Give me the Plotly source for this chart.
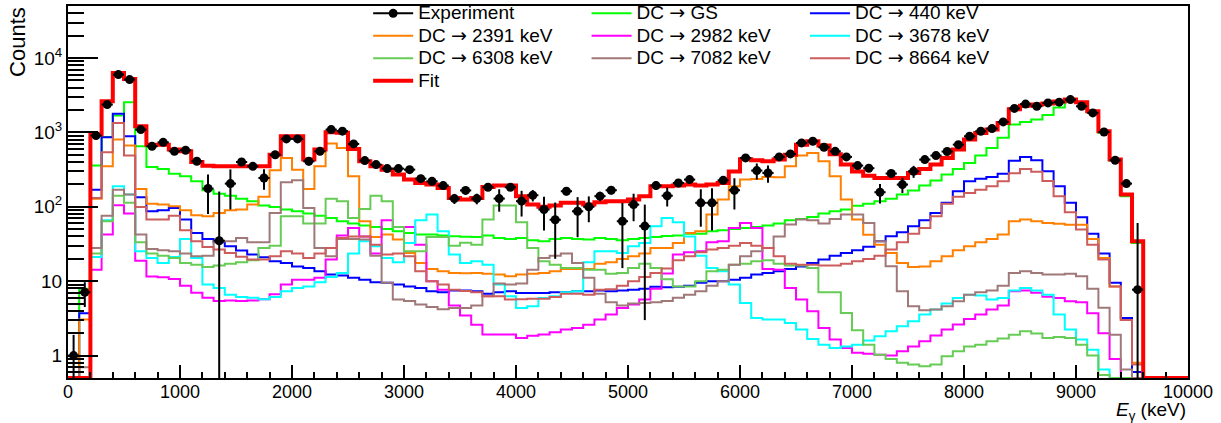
import numpy as np
import plotly.graph_objects as go

# ---------------- data (100 keV bins, 0 - 10000 keV) ----------------
bin_edges_keV = list(range(0, 10001, 100))

experiment = [1, 7.1, 906, 2366, 5980, 5130, 1090, 650, 736, 557,
              575, 409, 176, 35, 205, 400, 350, 244, 500, 817,
              817, 409, 557, 1090, 1040, 700, 418, 369, 326, 326,
              316, 239, 220, 193, 129, 166, 129, 183, 129, 183,
              119, 143, 92, 67, 162, 87, 100, 139, 167, 64,
              107, 55, 193, 141, 209, 232, 113, 113, 227, 167,
              454, 307, 285, 468, 514, 722, 760, 631, 557, 468,
              358, 330, 157, 280, 199, 300, 431, 488, 553, 685,
              887, 1035, 1125, 1383, 2100, 2400, 2245, 2490, 2550, 2760,
              2245, 1828, 1014, 422, 205, 7.7, None, None, None, None]

experiment_err = [0.9, 2.6, 30, 50, 80, 75, 35, 28, 30, 30,
                  30, 35, 96, 126, 113, 35, 35, 75, 40, 40,
                  40, 50, 40, 45, 45, 40, 30, 25, 25, 25,
                  25, 25, 25, 25, 20, 20, 21, 20, 43, 20,
                  45, 25, 44, 47, 20, 48, 38, 20, 20, 49,
                  43, 52, 25, 40, 25, 25, 59, 65, 25, 75,
                  30, 75, 75, 30, 30, 30, 30, 30, 30, 30,
                  30, 30, 46, 30, 46, 55, 35, 35, 35, 35,
                  40, 40, 40, 45, 50, 50, 50, 50, 50, 50,
                  50, 45, 40, 30, 25, 53, None, None, None, None]

fit = [0, 0, 935, 2620, 6310, 5230, 1210, 685, 685, 590,
       560, 400, 355, 350, 350, 350, 350, 351, 500, 887,
       887, 431, 587, 1004, 990, 600, 409, 351, 316, 271,
       232, 209, 199, 179, 131, 125, 131, 185, 193, 193,
       139, 107, 100, 104, 113, 113, 107, 115, 119, 119,
       125, 139, 189, 189, 193, 199, 193, 199, 209, 298,
       436, 421, 409, 431, 499, 685, 760, 665, 508, 369,
       298, 262, 244, 244, 244, 285, 323, 369, 453, 587,
       800, 984, 1091, 1340, 2050, 2290, 2365, 2440, 2600, 2760,
       2540, 1925, 1035, 431, 146, 34.4, 0, 0, 0, 0]

dc_gs = [0, 7.9, 358, 869, 1683, 2540, 651, 343, 323, 279,
         257, 220, 167, 150, 141, 128, 119, 104, 99.7, 91.7,
         87.3, 81, 76, 70.8, 64, 59.5, 55.9, 53.6, 50.4, 46.9,
         44.5, 42.3, 42.3, 41, 40.1, 39.6, 39.3, 41, 38.2, 37,
         38, 35.5, 34.4, 37, 38, 37, 36.3, 38, 37, 35.5,
         37, 38, 39.3, 40.5, 41, 43.6, 43.6, 47, 48.5, 50.4,
         52, 53.6, 56, 59.5, 66, 68.7, 73, 81, 87, 91.7,
         103, 110, 119, 128, 146, 165, 193, 225, 271, 323,
         389, 488, 618, 850, 1273, 1375, 1490, 1720, 2165, 2600,
         2488, 1866, 984, 418, 139, 32.7, 0, 0, 0, 0]

dc_440 = [0, 3.7, 170, 860, 1775, 887, 134, 87, 90, 96.6,
          67.3, 44.5, 37, 33.4, 29.5, 25.8, 22.8, 21, 18.5, 17.6,
          15.8, 15, 13.6, 12.3, 11.9, 11.1, 10.5, 9.7, 9.5, 9.0,
          8.5, 8.1, 7.3, 7.1, 7.5, 7.5, 7.3, 6.8, 7.1, 7.3,
          6.95, 6.95, 6.95, 7.1, 7.1, 7.3, 7.3, 7.5, 7.3, 7.5,
          7.7, 7.9, 8.4, 8.3, 8.4, 8.7, 9.5, 10, 10, 10.5,
          11.1, 12.3, 12.9, 13.6, 14.6, 15.8, 17.6, 19.5, 22, 24,
          26, 29, 34.4, 40.2, 45.5, 54.7, 65.9, 82.8, 113, 162,
          220, 239, 252, 279, 415, 468, 422, 300, 189, 113,
          72.3, 43.6, 23.5, 9.5, 3.2, 0.6, 0, 0, 0, 0]

dc_2391 = [0, 3.05, 128, 351, 800, 665, 174, 110, 107, 102,
           90, 77, 74.5, 82.8, 90, 92, 107, 137, 310, 454,
           316, 174, 351, 707, 618, 257, 64, 39.3, 42.3, 36.3,
           24, 17.6, 14.6, 13.6, 12.9, 12.8, 12.9, 12.6, 12.3, 11.7,
           12.3, 12.6, 12.9, 13.6, 14.6, 14.6, 14.6, 17.2, 18, 19.9,
           21.6, 23.5, 28, 28, 32.7, 44.5, 46.9, 78.6, 125, 189,
           232, 237, 252, 250, 351, 488, 530, 409, 257, 125,
           67.3, 42, 31, 24, 17.6, 15.5, 15.8, 18.5, 21.6, 26,
           29.5, 33.4, 37, 42.3, 64, 67.3, 64, 60.7, 59.4, 57.5,
           57.5, 37, 20.5, 8.5, 3, 0.8, 0, 0, 0, 0]

dc_2982 = [0, 0, 14.3, 42.3, 105, 81, 18.9, 11.6, 11.3, 10.7,
           8.7, 7, 6, 5.4, 5.5, 5.4, 5.5, 5.7, 6.7, 9,
           10.5, 10.5, 11.1, 19.5, 41, 52, 40, 23.5, 66, 53.6,
           53.6, 31, 10, 7.7, 4.7, 3.45, 2.6, 1.92, 1.92, 1.92,
           1.73, 1.85, 1.92, 2.06, 2.24, 2.35, 2.6, 3.05, 3.56, 4.37,
           4.85, 5.67, 7.9, 12.7, 22.8, 24.5, 25.3, 33.4, 34.4, 52,
           60.7, 52, 14.6, 14.3, 8.1, 5.67, 3.95, 2.35, 1.64, 1.27,
           1.09, 1.06, 1.03, 1.0, 1.14, 1.33, 1.56, 1.86, 2.24, 2.61,
           3.1, 3.56, 4.15, 4.7, 7.3, 7.5, 7.0, 6.2, 5.96, 5.37,
           5.2, 3.7, 2.0, 0.9, 0.5, 0, 0, 0, 0, 0]

dc_3678 = [0, 0, 21.2, 66, 189, 146, 25.3, 20.5, 17.6, 21.2,
           37, 20.5, 9, 8.1, 6.6, 6.15, 6.0, 5.7, 6.15, 7.3,
           8.1, 8.5, 9.7, 11.4, 12.9, 23.5, 34.4, 29.5, 20.5, 18,
           32.7, 66, 78.6, 47, 22.8, 17.6, 18.5, 16.7, 9, 6.3,
           4.37, 4.6, 5.96, 6.3, 7.1, 7.3, 18, 25.3, 25.3, 24,
           29.5, 32.7, 54.7, 70.8, 62, 40, 22, 15, 13.6, 9,
           5.1, 3.2, 3.05, 3.05, 2.75, 2.24, 1.67, 1.4, 1.27, 1.33,
           1.4, 1.6, 1.82, 2.12, 2.48, 2.9, 3.56, 4.15, 5, 5.96,
           6.6, 6.4, 5.67, 5.96, 7.5, 8.1, 7.5, 6.6, 3.56, 2.24,
           1.64, 1.2, 0.65, 0, 0, 0, 0, 0, 0, 0]

dc_6308 = [0, 0, 23.5, 64, 141, 113, 33.4, 23.5, 22, 20.5,
           17.6, 16.7, 15.5, 16.2, 17.2, 18, 19.1, 28, 30, 74.6,
           74.6, 59.5, 59.5, 128, 119, 70.8, 93.6, 141, 119, 53.6,
           25.3, 25.3, 39.3, 39.3, 30, 33, 31, 67.3, 104, 104,
           62, 28, 18.5, 16.7, 15, 15, 14.3, 14.3, 12.6, 12.9,
           15, 17.2, 15, 10.6, 8.5, 8.5, 10, 13.6, 14.3, 16.7,
           17.2, 18.5, 19.1, 17.2, 16.2, 16.2, 15, 7.1, 7.1, 3.75,
           2.19, 1.4, 1.03, 0.9, 0.8, 0.76, 0.72, 0.76, 0.98, 1.14,
           1.33, 1.4, 1.56, 1.7, 1.91, 2.12, 1.98, 1.73, 1.78, 1.73,
           1.4, 1.0, 0.55, 0, 0, 0, 0, 0, 0, 0]

dc_7082 = [0, 0.7, 28, 76, 170, 146, 42.3, 27, 26, 25.3,
           23.5, 21.6, 22, 34.4, 34.4, 38.2, 33.4, 33.4, 82.8, 213,
           227, 96.6, 28, 21.6, 37, 37, 36.3, 22, 9.5, 5.67,
           5.4, 4.85, 4.5, 4.2, 4.37, 4.37, 4.7, 6.3, 9.3, 9.0,
           9.3, 14.3, 20.5, 22, 23.5, 17.6, 11.1, 6.8, 5.2, 4.7,
           5.0, 5.1, 5.2, 5.4, 6, 6.6, 7.3, 8.7, 10, 16.7,
           21.6, 25.3, 28, 40, 57.7, 67.3, 66, 59.5, 68.7, 78.6,
           78.6, 60.7, 34.4, 15.9, 7.3, 4.6, 4.07, 4.15, 4.6, 5.37,
           6.6, 7.1, 7.5, 8.7, 12.9, 13.6, 12.9, 12.3, 12.3, 12.6,
           11.7, 7.9, 4.4, 1.91, 0.65, 0, 0, 0, 0, 0]

dc_8664 = [0, 0, 131, 540, 1340, 488, 99.6, 67.3, 67.3, 76,
           48.4, 34.4, 28.9, 26.6, 24, 21.3, 19.5, 19.5, 21.6, 25.3,
           23.5, 20.5, 23.5, 28, 38.2, 40, 40, 31, 22.8, 23.5,
           21.6, 13.6, 10, 9, 7.7, 7.4, 7.1, 6.3, 6.3, 5.67,
           5.7, 5.8, 5.8, 6.15, 6.8, 6.8, 6.6, 7.7, 7.8, 8.7,
           10, 11.4, 12.9, 14.8, 19.1, 21.6, 24.5, 26.6, 28, 30,
           32.7, 30, 28, 21.6, 17.2, 16.7, 16.7, 16.2, 16.2, 17.2,
           18.5, 19.9, 22, 26.6, 33.4, 43.6, 52, 74.6, 110, 136,
           153, 170, 189, 220, 282, 323, 295, 222, 139, 84.5,
           49.4, 31, 19.5, 8.5, 3, 0.76, 0, 0, 0, 0]

series_labels = ["GS", "440 keV", "2391 keV", "2982 keV", "3678 keV",
                 "6308 keV", "7082 keV", "8664 keV"]
series_values = [dc_gs, dc_440, dc_2391, dc_2982, dc_3678, dc_6308, dc_7082, dc_8664]

x_tick_vals = list(range(0, 10001, 1000))
x_tick_text = [str(v) for v in x_tick_vals]
y_tick_vals = [1, 10, 100, 1000, 10000]
y_tick_text = ["1", "10", "10<sup>2</sup>", "10<sup>3</sup>", "10<sup>4</sup>"]

# ---------------- style ----------------
series_colors = ["#00ff00", "#0000ff", "#ff8000", "#ff00ff", "#00ffff",
                 "#66cc55", "#a07878", "#cd5c5c"]
series_legend = ["legend2", "legend3", "legend", "legend2", "legend3",
                 "legend", "legend2", "legend3"]
FONT = "Liberation Sans, Arial, Helvetica, sans-serif"
FS = 19
Y_MIN, Y_MAX = 0.5, 5.0e4

edges = np.array(bin_edges_keV, dtype=float)
centers = 0.5 * (edges[:-1] + edges[1:])


def step_y(vals):
    y = np.array(vals, dtype=float)
    y = np.maximum(y, Y_MIN)          # empty bins drawn on the lower frame, like ROOT
    return np.append(y, y[-1])


def legend_name(txt):
    return ('<span style="font-size:%dpx">%s</span>' % (FS, txt))


ARROW = '<span style="font-family:DejaVu Sans">\u2192</span>'

fig = go.Figure()

# legend entry for the experiment (line + marker)
fig.add_trace(go.Scatter(x=[None], y=[None], mode="lines+markers",
                         name=legend_name("Experiment"), legend="legend",
                         line=dict(color="black", width=2),
                         marker=dict(color="black", size=9)))

for lab, vals, col, lg in zip(series_labels, series_values, series_colors, series_legend):
    fig.add_trace(go.Scatter(x=edges, y=step_y(vals), mode="lines",
                             name=legend_name("DC " + ARROW + " " + lab), legend=lg,
                             line=dict(color=col, width=2, shape="hv")))

fig.add_trace(go.Scatter(x=edges, y=step_y(fit), mode="lines",
                         name=legend_name("Fit"), legend="legend",
                         line=dict(color="#ff0000", width=4, shape="hv")))

fig.add_trace(go.Scatter(x=centers, y=experiment, mode="markers", showlegend=False,
                         marker=dict(color="black", size=9),
                         error_y=dict(type="data", array=experiment_err, color="black",
                                      thickness=2, width=0),
                         error_x=dict(type="constant", value=50, color="black",
                                      thickness=2, width=0)))

leg_common = dict(orientation="v", yanchor="top", xanchor="left",
                  bgcolor="rgba(0,0,0,0)", borderwidth=0, itemwidth=40,
                  font=dict(family=FONT, size=15, color="black"),
                  traceorder="normal")

fig.update_layout(
    width=1221, height=423, autosize=False,
    margin=dict(l=68, r=33, t=6, b=45, autoexpand=False),
    paper_bgcolor="white", plot_bgcolor="white",
    font=dict(family=FONT, size=FS, color="black"),
    showlegend=True,
    legend=dict(x=0.268, y=1.024, **leg_common),
    legend2=dict(x=0.463, y=1.024, **leg_common),
    legend3=dict(x=0.658, y=1.024, **leg_common),
    xaxis=dict(range=[0, 10000], showline=True, linecolor="black", linewidth=2,
               mirror=True, ticks="inside", ticklen=13, tickwidth=2, tickcolor="black",
               tickmode="array", tickvals=x_tick_vals, ticktext=x_tick_text,
               ticklabelstandoff=-4,
               minor=dict(ticks="inside", ticklen=6, tickwidth=2, tickcolor="black", dtick=200),
               showgrid=False, zeroline=False, tickfont=dict(size=18)),
    yaxis=dict(type="log", range=[np.log10(Y_MIN), np.log10(Y_MAX)],
               showline=True, linecolor="black", linewidth=2, mirror=True,
               ticks="inside", ticklen=30, tickwidth=2, tickcolor="black",
               tickmode="array", tickvals=y_tick_vals, ticktext=y_tick_text,
               minor=dict(ticks="inside", ticklen=16, tickwidth=2, tickcolor="black",
                          tickmode="array",
                          tickvals=[k * 10.0 ** d for d in range(-1, 5) for k in range(2, 10)
                                    if Y_MIN <= k * 10.0 ** d <= Y_MAX]),
               showgrid=False, zeroline=False, tickfont=dict(size=FS)),
    annotations=[
        dict(text="<i>E</i><sub>\u03b3</sub> (keV)", xref="paper", yref="paper",
             x=1.0, y=-0.09, xanchor="right", yanchor="middle", showarrow=False,
             font=dict(family=FONT, size=FS)),
        dict(text="Counts", xref="paper", yref="paper", textangle=-90,
             x=-0.0446, y=1.003, xanchor="center", yanchor="top", showarrow=False,
             font=dict(family=FONT, size=22)),
    ],
)

fig.write_html("out.html", config={"displayModeBar": False},
               post_script="document.body.style.margin='0px';")
